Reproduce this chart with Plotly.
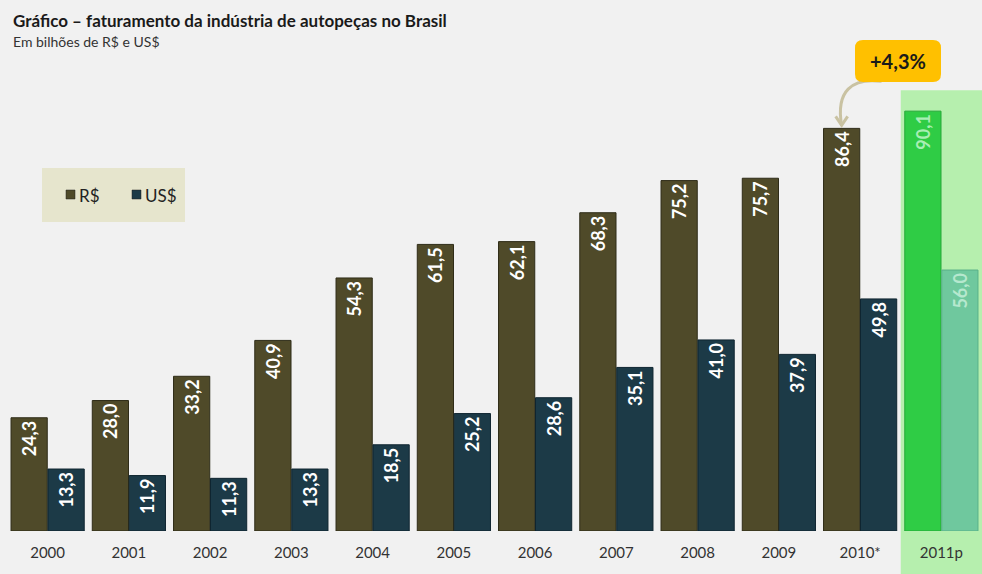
import plotly.graph_objects as go

# Faturamento da indústria de autopeças (bilhões)
anos = ["2000", "2001", "2002", "2003", "2004", "2005", "2006",
        "2007", "2008", "2009", "2010*", "2011p"]
reais = [24.3, 28.0, 33.2, 40.9, 54.3, 61.5, 62.1, 68.3, 75.2, 75.7, 86.4, 90.1]
dolares = [13.3, 11.9, 11.3, 13.3, 18.5, 25.2, 28.6, 35.1, 41.0, 37.9, 49.8, 56.0]
series = ["R$", "US$"]
variacao = "+4,3%"

W, H = 982, 574
ML, MR, MT, MB = 7, 0, 65, 43
YMAX = 100.0
PW, PH = W - ML - MR, H - MT - MB
BARGAP = 0.09


def fmt(v):
    return f"{v:.1f}".replace(".", ",")


def px_x(cat_pos):
    # category position -> pixel
    return ML + (cat_pos + 0.5) / len(anos) * PW


def px_y(val):
    return MT + PH * (1 - val / YMAX)


def to_paper(px, py):
    return (px - ML) / PW, (H - MB - py) / PH


n = len(anos)
base_r, base_u = "#4f4a29", "#1c3a47"
cor_r = [base_r] * (n - 1) + ["#2fcc45"]
cor_u = [base_u] * (n - 1) + ["#6fc89e"]
linha_r = ["#2f2c18"] * (n - 1) + ["#25a838"]
linha_u = ["#0f2530"] * (n - 1) + ["#58b088"]
txt_r = ["white"] * (n - 1) + ["#a8eeb4"]
txt_u = ["white"] * (n - 1) + ["#b6e8cf"]

fig = go.Figure()
fig.add_bar(
    x=anos, y=reais, name=series[0],
    marker=dict(color=cor_r, line=dict(color=linha_r, width=1)),
    text=[fmt(v) for v in reais], textposition="inside",
    insidetextanchor="end", textangle=-90,
    textfont=dict(family="Lato", size=18, color=txt_r, weight="bold"),
    cliponaxis=False,
)
fig.add_bar(
    x=anos, y=dolares, name=series[1],
    marker=dict(color=cor_u, line=dict(color=linha_u, width=1)),
    text=[fmt(v) for v in dolares], textposition="inside",
    insidetextanchor="end", textangle=-90,
    textfont=dict(family="Lato", size=18, color=txt_u, weight="bold"),
    cliponaxis=False,
)

shapes = []
# destaque da projeção 2011
x0, _ = to_paper(px_x(n - 1.5), 0)
_, yt = to_paper(0, px_y(90.1) - 21)
_, yb = to_paper(0, H)
shapes.append(dict(type="rect", xref="paper", yref="paper",
                   x0=x0, x1=1.0, y0=yb, y1=yt, layer="below",
                   fillcolor="rgba(160,238,148,0.72)", line=dict(width=0)))

# caixa de legenda
lx0, ly0 = to_paper(42, 168)
lx1, ly1 = to_paper(185, 222)
shapes.append(dict(type="rect", xref="paper", yref="paper",
                   x0=lx0, x1=lx1, y0=ly1, y1=ly0, layer="below",
                   fillcolor="#e6e5cd", line=dict(width=0)))

annotations = []
# itens da legenda: quadrado + rótulo
for nome, cor, sx in zip(series, [base_r, base_u], [66, 132]):
    q0 = to_paper(sx, 190)
    q1 = to_paper(sx + 9, 199)
    shapes.append(dict(type="rect", xref="paper", yref="paper",
                       x0=q0[0], x1=q1[0], y0=q1[1], y1=q0[1],
                       fillcolor=cor, line=dict(color="#222222", width=0.5)))
    tx, ty = to_paper(sx + 11, 195)
    annotations.append(dict(xref="paper", yref="paper", x=tx, y=ty, text=nome,
                            showarrow=False, xanchor="left", yanchor="middle",
                            font=dict(family="Lato", size=17, color="#222222")))

# seta curva do rótulo de variação até a barra de 2010
bar_w = (1 - BARGAP) / 2
tip_px = px_x(n - 2 - bar_w / 2)
tip_py = px_y(reais[n - 2]) - 3
start_px, start_py = tip_px + 40, tip_py - 44
p0 = to_paper(start_px, start_py)
c1 = to_paper(start_px - 30, start_py - 4)
c2 = to_paper(tip_px - 6, tip_py - 34)
p3 = to_paper(tip_px, tip_py)
shapes.append(dict(type="path", xref="paper", yref="paper",
                   path=f"M {p0[0]},{p0[1]} C {c1[0]},{c1[1]} {c2[0]},{c2[1]} {p3[0]},{p3[1]}",
                   line=dict(color="#c9c2a2", width=3)))
a1 = to_paper(tip_px - 6, tip_py - 9)
a2 = to_paper(tip_px + 6, tip_py - 9)
shapes.append(dict(type="path", xref="paper", yref="paper",
                   path=f"M {a1[0]},{a1[1]} L {p3[0]},{p3[1]} L {a2[0]},{a2[1]}",
                   line=dict(color="#c9c2a2", width=3)))

# caixa arredondada do "+4,3%"
bx0, by0, bx1, by1, r = 855, 40, 941, 82, 8
def P(x, y):
    a, b = to_paper(x, y)
    return f"{a},{b}"
path = (f"M {P(bx0 + r, by0)} L {P(bx1 - r, by0)} Q {P(bx1, by0)} {P(bx1, by0 + r)} "
        f"L {P(bx1, by1 - r)} Q {P(bx1, by1)} {P(bx1 - r, by1)} "
        f"L {P(bx0 + r, by1)} Q {P(bx0, by1)} {P(bx0, by1 - r)} "
        f"L {P(bx0, by0 + r)} Q {P(bx0, by0)} {P(bx0 + r, by0)} Z")
shapes.append(dict(type="path", xref="paper", yref="paper", path=path,
                   fillcolor="#ffc000", line=dict(width=0)))

cx, cy = to_paper((bx0 + bx1) / 2, (by0 + by1) / 2)
annotations += [
    dict(xref="paper", yref="paper", x=cx, y=cy, text="<b>" + variacao + "</b>",
         showarrow=False, font=dict(family="Lato", size=20, color="#1a1a1a"),
         xanchor="center", yanchor="middle"),
    dict(xref="paper", yref="paper", x=to_paper(11, 0)[0], y=to_paper(0, 8)[1],
         text="<b>Gráfico – faturamento da indústria de autopeças no Brasil</b>",
         showarrow=False, xanchor="left", yanchor="top",
         font=dict(family="Lato", size=17, color="#1a1a1a")),
    dict(xref="paper", yref="paper", x=to_paper(11, 0)[0], y=to_paper(0, 31)[1],
         text="Em bilhões de R$ e US$",
         showarrow=False, xanchor="left", yanchor="top",
         font=dict(family="Lato", size=14, color="#333333")),
]

fig.update_layout(
    width=W, height=H,
    margin=dict(l=ML, r=MR, t=MT, b=MB),
    paper_bgcolor="#f1f1f1", plot_bgcolor="rgba(0,0,0,0)",
    barmode="group", bargap=BARGAP, bargroupgap=0.02,
    shapes=shapes, annotations=annotations,
    showlegend=False,
    xaxis=dict(type="category", showgrid=False, zeroline=False, showline=False,
               ticks="", tickfont=dict(family="Lato", size=15, color="#333"),
               ticklabelstandoff=11, fixedrange=True),
    yaxis=dict(range=[0, YMAX], visible=False, showgrid=False, fixedrange=True),
    font=dict(family="Lato"),
    uniformtext=dict(mode=False),
)

fig.write_html("out.html")
